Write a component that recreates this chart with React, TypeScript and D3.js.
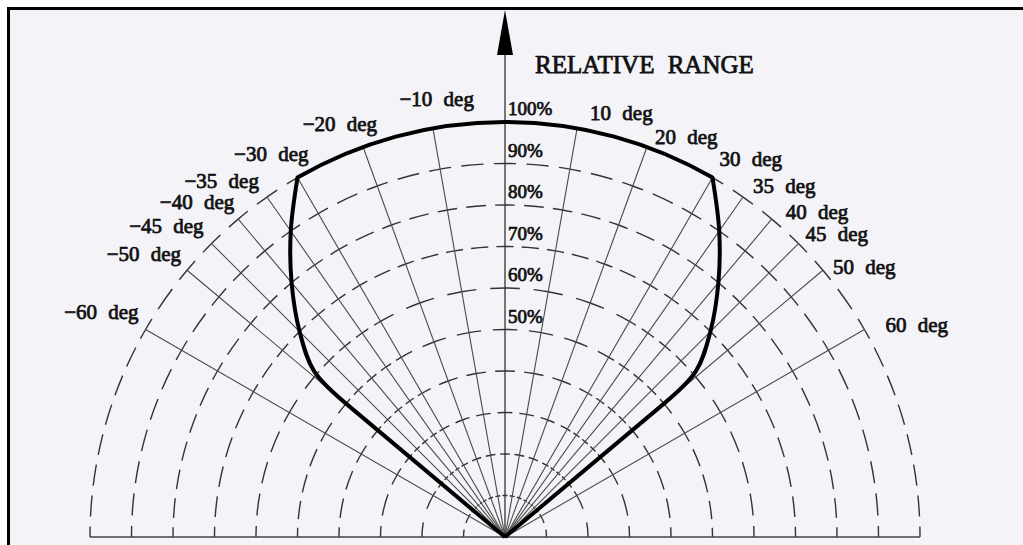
import React from "react";
import * as d3 from "d3";

// ---- data ----
const ringLevels = [10, 20, 30, 40, 50, 60, 70, 80, 90, 100];
const spokeAngles = [-60, -50, -45, -40, -35, -30, -20, -10, 0, 10, 20, 30, 35, 40, 45, 50, 60];
const percentLabels = [50, 60, 70, 80, 90, 100];
const degreeLabels = [-60, -50, -45, -40, -35, -30, -20, -10, 10, 20, 30, 35, 40, 45, 50, 60];
// relative range pattern (symmetric), side part from 30 deg to 50 deg;
// after the last point the pattern runs straight back to the origin
const patternAngles = [30, 35, 40, 45, 49, 50];
const patternRange = [100, 90, 80, 70, 61, 50];
const titleText = "RELATIVE RANGE";

// ---- layout ----
const W = 1023;
const H = 545;
const CX = 505;
const CY = 537;
const R = 415;
const FONT = "'Liberation Serif', 'Times New Roman', serif";

// per-label nudges (layout only) relative to the 100% arc point
const NUDGE: Record<number, [number, number]> = {
  10: [13, -13], 20: [8, -8], 30: [7, -16], 35: [10, -9], 40: [14, -5], 45: [7, -7], 50: [10, -1], 60: [21, -2],
  [-10]: [41, -27], [-20]: [14, -21], [-30]: [11, -21], [-35]: [-8, -14], [-40]: [-4, -15], [-45]: [-8, -15], [-50]: [-6, -14], [-60]: [-7, -15],
};

export default function App() {
  const r = d3.scaleLinear().domain([0, 100]).range([0, R]);
  const pt = (deg: number, v: number): [number, number] => {
    const a = (deg * Math.PI) / 180;
    return [CX + r(v) * Math.sin(a), CY - r(v) * Math.cos(a)];
  };

  // dashed ring segments between consecutive spokes (dashes centred on each spoke)
  const bounds = [-90, ...spokeAngles, 90];
  const PERIOD = 31;
  const DFRAC = 0.68;
  const ringSegs: { d: string; n: number; key: string }[] = [];
  ringLevels.forEach((lv) => {
    for (let i = 0; i < bounds.length - 1; i++) {
      const a0 = bounds[i];
      const a1 = bounds[i + 1];
      const rr = r(lv);
      const len = (rr * (a1 - a0) * Math.PI) / 180;
      const n = Math.max(1, Math.round(len / PERIOD));
      const p0 = pt(a0, lv);
      const p1 = pt(a1, lv);
      const d = `M${p0[0]},${p0[1]} A${rr},${rr} 0 0 1 ${p1[0]},${p1[1]}`;
      ringSegs.push({ d, n, key: `${lv}-${i}` });
    }
  });

  // pattern path
  const line = d3.line<[number, number]>().curve(d3.curveCatmullRom.alpha(0.5));
  const leftPts = patternAngles.map((a, i) => pt(-a, patternRange[i])).reverse();
  const rightPts = patternAngles.map((a, i) => pt(a, patternRange[i]));
  const leftD = (line(leftPts) || "").replace(/^M/, "L");
  const rightD = (line(rightPts) || "").replace(/^M/, "L");
  const arcEnd = pt(patternAngles[0], patternRange[0]);
  const patternD =
    `M${CX},${CY} L${leftPts[0][0]},${leftPts[0][1]} ` +
    leftD +
    ` A${r(100)},${r(100)} 0 0 1 ${arcEnd[0]},${arcEnd[1]} ` +
    rightD +
    ` L${CX},${CY}`;

  const textStyle = { fontFamily: FONT, fill: "#111", stroke: "#111", strokeWidth: 0.75 } as const;

  return (
    <svg
      width={W}
      height={H}
      viewBox={`0 0 ${W} ${H}`}
      style={{ position: "absolute", left: 0, top: 0, background: "#ffffff" }}
    >
      <rect x={8} y={8} width={W - 8} height={H - 8} fill="#f4f3f8" />
      {/* frame */}
      <line x1={7} y1={8.5} x2={W} y2={8.5} stroke="#000" strokeWidth={3} />
      <line x1={8.5} y1={7} x2={8.5} y2={H} stroke="#000" strokeWidth={3} />

      {/* dashed rings */}
      {ringSegs.map((s) => (
        <path
          key={s.key}
          d={s.d}
          pathLength={s.n}
          fill="none"
          stroke="#333"
          strokeWidth={1.4}
          strokeDasharray={`${DFRAC} ${1 - DFRAC}`}
          strokeDashoffset={DFRAC / 2}
        />
      ))}

      {/* spokes */}
      {spokeAngles
        .filter((a) => a !== 0)
        .map((a) => {
          const p = pt(a, 100);
          return <line key={a} x1={CX} y1={CY} x2={p[0]} y2={p[1]} stroke="#4a4a4a" strokeWidth={1.1} />;
        })}

      {/* baseline */}
      <line x1={pt(-90, 100)[0]} y1={CY} x2={pt(90, 100)[0]} y2={CY} stroke="#444" strokeWidth={1.4} />

      {/* vertical axis with arrow */}
      <line x1={CX} y1={CY} x2={CX} y2={40} stroke="#333" strokeWidth={1.3} />
      <path d={`M${CX},10 L${CX + 8},55 L${CX - 8},55 Z`} fill="#000" />

      {/* pattern */}
      <path d={patternD} fill="none" stroke="#000" strokeWidth={4} strokeLinejoin="round" />

      {/* title */}
      <text x={535} y={73} fontSize={25} wordSpacing={7} {...textStyle}>
        {titleText}
      </text>

      {/* percent labels */}
      {percentLabels.map((v) => (
        <text key={v} x={CX + 3} y={pt(0, v)[1] - 7} fontSize={19} {...textStyle}>
          {`${v}%`}
        </text>
      ))}

      {/* degree labels */}
      {degreeLabels.map((a) => {
        const p = pt(a, 100);
        const [dx, dy] = NUDGE[a] || [0, 0];
        return (
          <text
            key={a}
            x={p[0] + dx}
            y={p[1] + dy}
            fontSize={21}
            dominantBaseline="middle"
            textAnchor={a > 0 ? "start" : "end"}
            wordSpacing={6}
            {...textStyle}
          >
            {a < 0 ? `\u2212${Math.abs(a)} deg` : `${a} deg`}
          </text>
        );
      })}
    </svg>
  );
}
